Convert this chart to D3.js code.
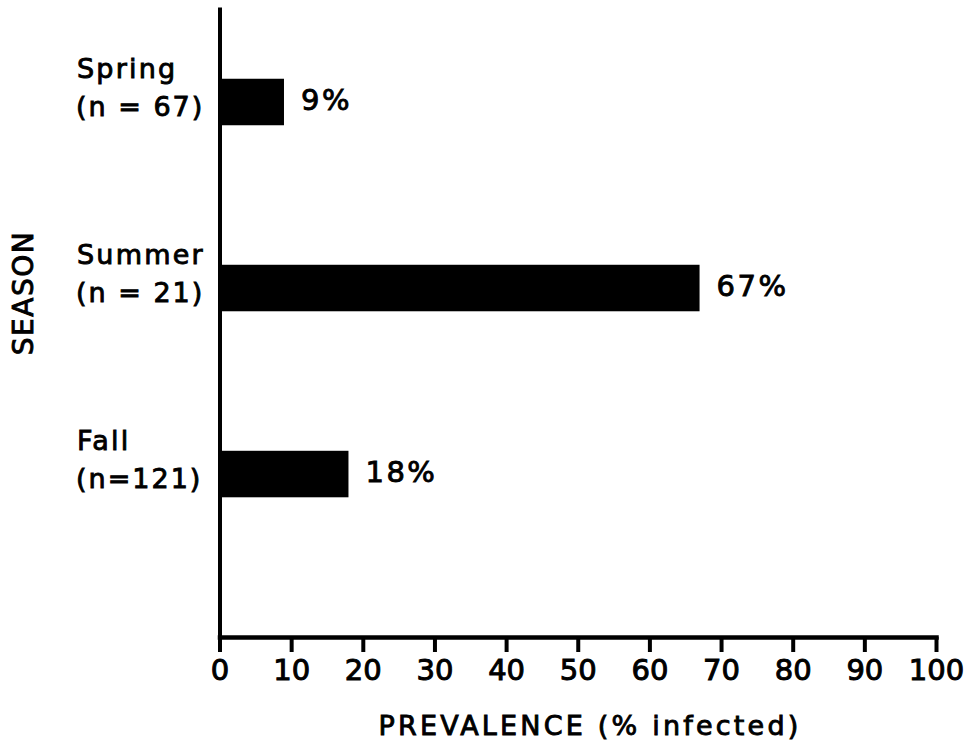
<!DOCTYPE html>
<html>
<head>
<meta charset="utf-8">
<script src="https://cdn.jsdelivr.net/npm/d3@7"></script>
<style>
  html, body { margin: 0; padding: 0; background: #fff; }
  svg { display: block; }
  text { font-family: "DejaVu Sans", sans-serif; fill: #000; stroke: #000; stroke-width: 0.9px; }
</style>
</head>
<body>
<svg id="chart" width="972" height="750"></svg>
<script>
// ---- data ----
const seasons = ["Spring", "Summer", "Fall"];
const sampleLabels = ["(n = 67)", "(n = 21)", "(n=121)"];
const prevalence = [9, 67, 18];
const xTicks = [0, 10, 20, 30, 40, 50, 60, 70, 80, 90, 100];
const xTitle = "PREVALENCE (% infected)";
const yTitle = "SEASON";

// ---- layout ----
const svg = d3.select("#chart");
const x = d3.scaleLinear().domain([0, 100]).range([219.5, 936]);
const y = d3.scaleBand().domain(seasons).range([9, 637])
  .paddingInner(0.75).paddingOuter(0.563).align(0.333);
const axisY = 637;

// bars
svg.append("g").selectAll("rect").data(seasons).join("rect")
  .attr("x", x(0))
  .attr("y", d => y(d))
  .attr("width", (d, i) => x(prevalence[i]) - x(0))
  .attr("height", y.bandwidth())
  .attr("fill", "#000");

// value labels
svg.append("g").selectAll("text").data(seasons).join("text")
  .attr("x", (d, i) => x(prevalence[i]) + 17)
  .attr("y", d => y(d) + y.bandwidth() / 2 + 8)
  .style("font-size", "29px")
  .style("letter-spacing", "2.5px")
  .text((d, i) => prevalence[i] + "%");

// category labels
const cat = svg.append("g").selectAll("g").data(seasons).join("g");
cat.append("text")
  .attr("x", 77)
  .attr("y", d => y(d) - 1)
  .style("font-size", "27px")
  .style("letter-spacing", "2.2px")
  .text(d => d);
cat.append("text")
  .attr("x", 76)
  .attr("y", d => y(d) + y.bandwidth() - 9)
  .style("font-size", "27px")
  .style("letter-spacing", "2px")
  .text((d, i) => sampleLabels[i]);

// x axis
const gx = svg.append("g")
  .attr("transform", `translate(0,${axisY})`)
  .call(d3.axisBottom(x).tickValues(xTicks).tickSize(15).tickSizeOuter(0).tickFormat(d3.format("d")));
gx.select(".domain").attr("stroke", "#000").attr("stroke-width", 4.5).attr("stroke-linecap", "square");
gx.selectAll(".tick line").attr("stroke", "#000").attr("stroke-width", 4);
gx.selectAll(".tick text")
  .attr("y", 43).attr("dy", 0)
  .style("font-family", "'DejaVu Sans', sans-serif")
  .style("font-size", "29px")
  .style("stroke", "#000")
  .style("stroke-width", "1px")
  .attr("fill", "#000");

// y axis
const gy = svg.append("g")
  .attr("transform", `translate(${x(0)},0)`)
  .call(d3.axisLeft(y).tickSize(0).tickSizeOuter(0).tickFormat(""));
gy.select(".domain").attr("stroke", "#000").attr("stroke-width", 4).attr("stroke-linecap", "square");

// axis titles
svg.append("text")
  .attr("x", 590)
  .attr("y", 735)
  .attr("text-anchor", "middle")
  .style("font-size", "27px")
  .style("letter-spacing", "3.2px")
  .text(xTitle);

svg.append("text")
  .attr("transform", "translate(33,293) rotate(-90)")
  .attr("text-anchor", "middle")
  .style("font-size", "28px")
  .style("letter-spacing", "1.5px")
  .text(yTitle);
</script>
</body>
</html>
